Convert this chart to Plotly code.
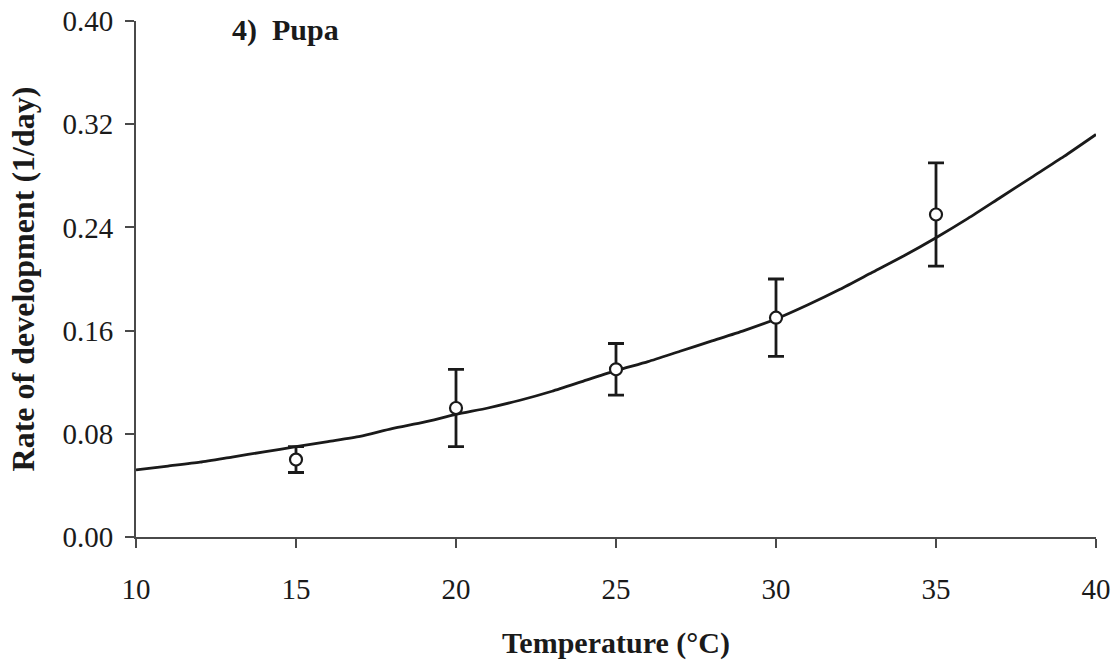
import plotly.graph_objects as go

# Observed pupal development rates (mean ± error) by rearing temperature
temps = [15, 20, 25, 30, 35]
rates = [0.060, 0.100, 0.130, 0.170, 0.250]
errors = [0.010, 0.030, 0.020, 0.030, 0.040]

# Fitted development-rate curve
curve_temps = [10, 11, 12, 13, 14, 15, 16, 17, 18, 19, 20, 21, 22, 23, 24, 25,
               26, 27, 28, 29, 30, 31, 32, 33, 34, 35, 36, 37, 38, 39, 40]
curve_rates = [0.052, 0.055, 0.058, 0.062, 0.066, 0.070, 0.074, 0.078, 0.084,
               0.089, 0.095, 0.100, 0.106, 0.113, 0.121, 0.129, 0.136, 0.144,
               0.152, 0.160, 0.169, 0.180, 0.192, 0.205, 0.218, 0.232, 0.247,
               0.263, 0.279, 0.295, 0.312]

x_ticks = [10, 15, 20, 25, 30, 35, 40]
y_ticks = [0.00, 0.08, 0.16, 0.24, 0.32, 0.40]

serif = "Liberation Serif, Times New Roman, serif"
ink = "#1a1a1a"
axis_col = "#4a4a4a"

fig = go.Figure()

fig.add_trace(go.Scatter(
    x=curve_temps, y=curve_rates, mode="lines",
    line=dict(color=ink, width=2.8, shape="spline", smoothing=0.6),
    hoverinfo="skip", showlegend=False,
))

fig.add_trace(go.Scatter(
    x=temps, y=rates, mode="markers",
    marker=dict(symbol="circle", size=12, color="white",
                line=dict(color=ink, width=2.2)),
    error_y=dict(type="data", array=errors, visible=True,
                 color=ink, thickness=2.8, width=8),
    showlegend=False,
))

fig.add_annotation(
    x=0.098, y=1.0, xref="paper", yref="paper",
    xanchor="left", yanchor="middle", yshift=-9,
    text="4)  Pupa", showarrow=False,
    font=dict(family=serif, size=30, color=ink, weight="bold"),
)

fig.update_layout(
    width=1118, height=661,
    margin=dict(l=136, r=22, t=21, b=124),
    paper_bgcolor="white", plot_bgcolor="white",
    font=dict(family=serif, color=ink),
)

fig.update_xaxes(
    range=[10, 40], tickvals=x_ticks, ticktext=[str(t) for t in x_ticks],
    automargin=False,
    showgrid=False, zeroline=False,
    showline=True, linecolor=axis_col, linewidth=2,
    ticks="outside", ticklen=9, tickwidth=2, tickcolor=axis_col,
    tickfont=dict(family=serif, size=29, color=ink),
    ticklabelstandoff=16,
    title=dict(text="Temperature (°C)", standoff=28,
               font=dict(family=serif, size=30, color=ink, weight="bold")),
)

fig.update_yaxes(
    range=[0, 0.40], tickvals=y_ticks, ticktext=[f"{t:.2f}" for t in y_ticks],
    automargin=False,
    showgrid=False, zeroline=False,
    showline=True, linecolor=axis_col, linewidth=2,
    ticks="outside", ticklen=9, tickwidth=2, tickcolor=axis_col,
    tickfont=dict(family=serif, size=29, color=ink),
    ticklabelstandoff=6,
    title=dict(text="Rate of development (1/day)", standoff=18,
               font=dict(family=serif, size=32, color=ink, weight="bold")),
)

fig.write_html("out.html")
